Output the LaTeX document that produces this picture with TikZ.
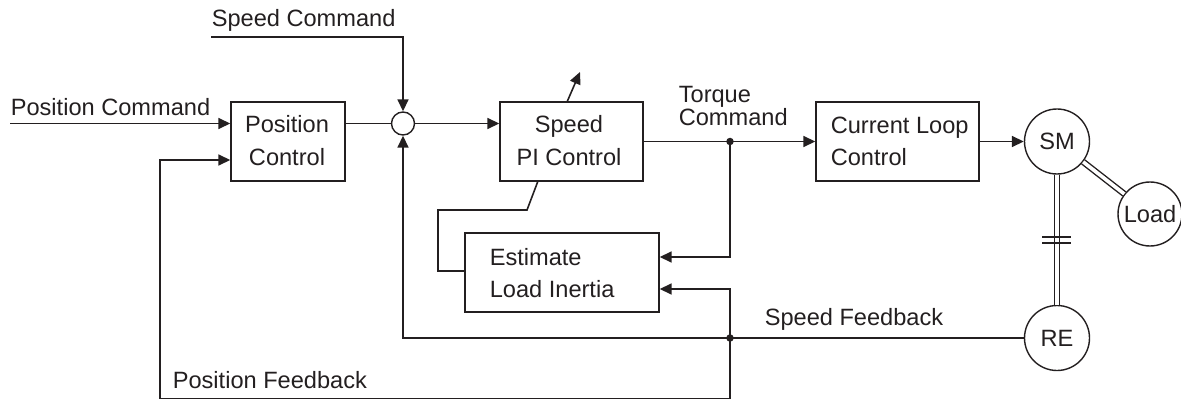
\documentclass[tikz,border=0pt]{standalone}
\usepackage{fontspec}
\setmainfont{Liberation Sans}
\usetikzlibrary{arrows.meta,calc}
\definecolor{ink}{RGB}{35,31,32}
\begin{document}
\begin{tikzpicture}[x=1pt,y=-1pt,
  line width=1.6pt, draw=ink, text=ink,
  every node/.style={font=\fontsize{23.6}{27}\selectfont, inner sep=0pt, text=ink},
  box/.style={draw=ink, rectangle, line width=1.4pt},
  circ/.style={draw=ink, circle, line width=1.4pt},
  txt/.style={anchor=base west},
  ctxt/.style={anchor=base},
  arr/.style={-{Triangle[length=12pt,width=11pt]}},
  dot/.style={circle, fill=ink, inner sep=0pt, minimum size=7.5pt},
  shaft/.style={double=white, double distance=3.6pt, line width=1.4pt}
]
\useasboundingbox (0,0) rectangle (1181,401);
% blocks
\node[box, minimum width=114pt, minimum height=79pt] (pc) at (288,141.5) {};
\node[box, minimum width=143pt, minimum height=79pt] (pi) at (571.5,141.5) {};
\node[box, minimum width=163pt, minimum height=79pt] (cl) at (897.5,141.5) {};
\node[box, minimum width=194pt, minimum height=79pt] (est) at (562,272.5) {};
\node[circ, minimum size=23pt] (sum) at (403,123.5) {};
\node[circ, minimum size=65pt] (sm) at (1057,141.5) {SM};
\node[circ, minimum size=65pt] (re) at (1057,338) {RE};
\node[circ, minimum size=64pt] (load) at (1150,214) {Load};
% texts
\node[ctxt] (pct1) at (287,133) {Position};
\node[ctxt] (pct2) at (287,166) {Control};
\node[ctxt] (pit1) at (569,133) {Speed};
\node[ctxt] (pit2) at (569,166) {PI Control};
\node[txt] (clt1) at (830,134) {Current Loop};
\node[txt] (clt2) at (830,166) {Control};
\node[txt] (et1) at (489,265) {Estimate};
\node[txt] (et2) at (489,297) {Load Inertia};
\node[txt] (tq1) at (678,103) {Torque};
\node[txt] (tq2) at (678,126) {Command};
\node[txt] (sc) at (211,27) {Speed Command};
\node[txt] (pcmd) at (10,116) {Position Command};
\node[txt] (sfb) at (764,325) {Speed Feedback};
\node[txt] (pfb) at (172,388) {Position Feedback};
% junctions
\node[dot] (tj) at (730,141.5) {};
\node[dot] (sj) at (730,338) {};
% coordinates
\coordinate (pcin) at (10,123.5);
\coordinate (scin) at (211,37);
\coordinate (tq) at (730,257);
\coordinate (sf) at (730,289);
\coordinate (sfc) at (403,338);
\coordinate (pb1) at (730,398.5);
\coordinate (pb2) at (160,398.5);
\coordinate (pb3) at (160,160);
\coordinate (l1) at (438,271);
\coordinate (l2) at (438,210);
\coordinate (l3) at (527,210);
\coordinate (l4) at (538,181);
\coordinate (a1) at (567,102);
\coordinate (a2) at (580,72);
\coordinate (t1a) at (1042,237);
\coordinate (t1b) at (1071,237);
\coordinate (t2a) at (1042,243);
\coordinate (t2b) at (1071,243);
% connectors
\draw[arr] (pcin) -- (pcin -| pc.west);
\draw[arr] (scin) -| (sum.north);
\draw (pc.east |- sum) -- (sum.west);
\draw[arr] (sum.east) -- (sum.east -| pi.west);
\draw[arr] (pi.east) -- (cl.west);
\draw[arr] (cl.east) -- (sm.west);
\draw[arr] (tj.center) -- (tq) -- (tq -| est.east);
\draw[arr] (sj.center) -- (sf) -- (sf -| est.east);
\draw[arr] (re.west) -- (sfc) -- (sum.south);
\draw[arr] (sj.center) -- (pb1) -- (pb2) -- (pb3) -- (pb3 -| pc.west);
\draw (l1 -| est.west) -- (l1) -- (l2) -- (l3) -- (l4);
\draw[arr] (a1) -- (a2);
\draw[shaft] (sm) -- (load);
\draw[shaft] (sm.south) -- (re.north);
\draw (t1a) -- (t1b);
\draw (t2a) -- (t2b);
\end{tikzpicture}
\end{document}
